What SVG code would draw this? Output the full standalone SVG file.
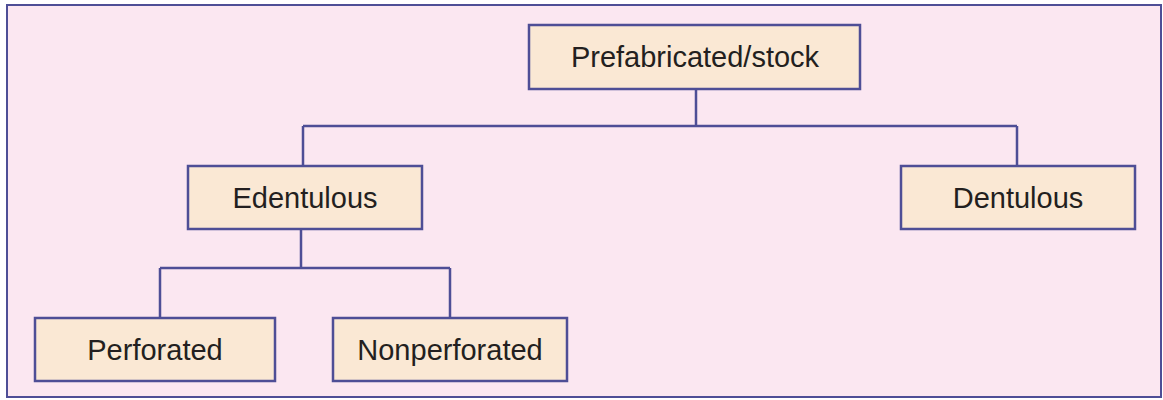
<svg xmlns="http://www.w3.org/2000/svg" width="1163" height="400" viewBox="0 0 1163 400">
<style>
.box{fill:#fae8d4;stroke:#4e4e96;stroke-width:2.5}
.lbl{font-family:"Liberation Sans",Arial,sans-serif;font-size:29px;fill:#231f20;text-anchor:middle}
.con{fill:none;stroke:#4e4e96;stroke-width:2.5}
</style>
<rect x="0" y="0" width="1163" height="400" fill="#ffffff"/>
<rect x="7" y="5" width="1154" height="392" fill="#fbe7f1" stroke="#4e4e96" stroke-width="2"/>
<g id="connectors">
<path class="con" d="M696 89V126M303 126H1017M303 126V166M1017 126V166"/>
<path class="con" d="M301 229V268M160 268H450M160 268V318M450 268V318"/>
</g>
<g id="prefab"><rect class="box" x="529" y="25" width="331" height="64"/><text class="lbl" x="695" y="67">Prefabricated/stock</text></g>
<g id="edentulous"><rect class="box" x="188" y="166" width="234" height="63"/><text class="lbl" x="305" y="208">Edentulous</text></g>
<g id="dentulous"><rect class="box" x="901" y="166" width="234" height="63"/><text class="lbl" x="1018" y="208">Dentulous</text></g>
<g id="perforated"><rect class="box" x="35" y="318" width="240" height="63"/><text class="lbl" x="155" y="360">Perforated</text></g>
<g id="nonperforated"><rect class="box" x="333" y="318" width="234" height="63"/><text class="lbl" x="450" y="360">Nonperforated</text></g>
</svg>
